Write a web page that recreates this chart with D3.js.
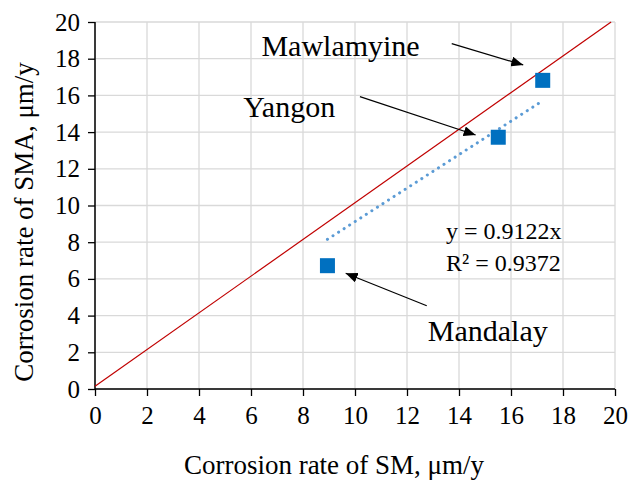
<!DOCTYPE html>
<html>
<head>
<meta charset="utf-8">
<script src="https://cdn.jsdelivr.net/npm/d3@7"></script>
<style>
  body { margin: 0; background: #fff; }
  svg { font-family: "Liberation Serif", "Times New Roman", serif; }
</style>
</head>
<body>
<svg id="chart" width="630" height="481"></svg>
<script>
// data
const sites = ["Mandalay", "Yangon", "Mawlamyine"];
const smRates = [8.94, 15.51, 17.22];     // Corrosion rate of SM
const smaRates = [6.72, 13.72, 16.82];    // Corrosion rate of SMA
const xTicks = [0, 2, 4, 6, 8, 10, 12, 14, 16, 18, 20];
const yTicks = [0, 2, 4, 6, 8, 10, 12, 14, 16, 18, 20];
const slope = 0.9122;
const rSquared = 0.9372;
const refLineX = [0, 19.85];
const refLineY = [0.15, 20];
// annotation arrows, [x1, y1, x2, y2] in data units, and label anchors
const arrowFrom = [[12.76, 4.54], [10.19, 15.93], [13.72, 18.82]];
const arrowTo = [[9.64, 6.31], [14.64, 13.84], [16.47, 17.66]];
const labelAt = [[12.8, 2.6], [5.7, 14.8], [6.4, 18.15]];

const margin = {left: 95, right: 15, top: 22, bottom: 92};
const TOTAL_WIDTH = 630, TOTAL_HEIGHT = 481;
const width = TOTAL_WIDTH - margin.left - margin.right;
const height = TOTAL_HEIGHT - margin.top - margin.bottom;

const xScale = d3.scaleLinear().domain([0, 20]).range([0, width]);
const yScale = d3.scaleLinear().domain([0, 20]).range([height, 0]);

const svg = d3.select("#chart");
const defs = svg.append("defs");
defs.append("marker")
    .attr("id", "head")
    .attr("viewBox", "0 0 12 10")
    .attr("refX", 12).attr("refY", 5)
    .attr("markerWidth", 12).attr("markerHeight", 10)
    .attr("markerUnits", "userSpaceOnUse")
    .attr("orient", "auto")
  .append("path")
    .attr("d", "M0,0 L12,5 L0,10 Z")
    .attr("fill", "#000");

const g = svg.append("g")
    .attr("transform", `translate(${margin.left}, ${margin.top})`);

// grid
g.append("g").selectAll("line").data(xTicks).enter().append("line")
    .attr("x1", d => xScale(d)).attr("x2", d => xScale(d))
    .attr("y1", 0).attr("y2", height)
    .attr("stroke", "#d9d9d9").attr("stroke-width", 1.3);
g.append("g").selectAll("line").data(yTicks).enter().append("line")
    .attr("y1", d => yScale(d)).attr("y2", d => yScale(d))
    .attr("x1", 0).attr("x2", width)
    .attr("stroke", "#d9d9d9").attr("stroke-width", 1.3);

// axes
const xAxis = d3.axisBottom(xScale).tickValues(xTicks).tickSize(7).tickPadding(10);
const yAxis = d3.axisLeft(yScale).tickValues(yTicks).tickSize(7).tickPadding(8);

const x_g = g.append("g").attr("transform", `translate(0, ${height})`).call(xAxis);
const y_g = g.append("g").call(yAxis);
[x_g, y_g].forEach(a => {
    a.attr("font-family", null);
    a.select(".domain").attr("stroke", "#000").attr("stroke-width", 1.5);
    a.selectAll(".tick line").attr("stroke", "#000").attr("stroke-width", 1.3);
    a.selectAll(".tick text")
        .attr("font-size", 25).attr("fill", "#000");
});
x_g.select(".domain").attr("d", `M0,0H${width}`);
y_g.select(".domain").attr("d", `M0,${height}V0`);

// y = x reference line
g.append("line")
    .attr("x1", xScale(refLineX[0])).attr("y1", yScale(refLineY[0]))
    .attr("x2", xScale(refLineX[1])).attr("y2", yScale(refLineY[1]))
    .attr("stroke", "#c00000").attr("stroke-width", 1.2);

// linear trend through origin
const xMin = d3.min(smRates), xMax = d3.max(smRates);
g.append("line")
    .attr("x1", xScale(xMin)).attr("y1", yScale(slope * xMin))
    .attr("x2", xScale(xMax)).attr("y2", yScale(slope * xMax))
    .attr("stroke", "#5b9bd5").attr("stroke-width", 3)
    .attr("stroke-linecap", "round")
    .attr("stroke-dasharray", "0.1 6.5");

// points
const mark = 15;
g.selectAll(".mark").data(sites).enter().append("rect")
    .attr("class", "mark")
    .attr("x", (d, i) => xScale(smRates[i]) - mark / 2)
    .attr("y", (d, i) => yScale(smaRates[i]) - mark / 2)
    .attr("width", mark).attr("height", mark)
    .attr("fill", "#0070c0");

// annotations
g.selectAll(".arrow").data(sites).enter().append("line")
    .attr("class", "arrow")
    .attr("x1", (d, i) => xScale(arrowFrom[i][0]))
    .attr("y1", (d, i) => yScale(arrowFrom[i][1]))
    .attr("x2", (d, i) => xScale(arrowTo[i][0]))
    .attr("y2", (d, i) => yScale(arrowTo[i][1]))
    .attr("stroke", "#000").attr("stroke-width", 1.2)
    .attr("marker-end", "url(#head)");

g.selectAll(".site").data(sites).enter().append("text")
    .attr("class", "site")
    .text(d => d)
    .attr("x", (d, i) => xScale(labelAt[i][0]))
    .attr("y", (d, i) => yScale(labelAt[i][1]))
    .attr("font-size", 30).attr("fill", "#000");

// equation
g.append("text")
    .text(`y = ${slope}x`)
    .attr("x", xScale(13.5)).attr("y", yScale(8.2))
    .attr("font-size", 24).attr("fill", "#000");
g.append("text")
    .text(`R² = ${rSquared}`)
    .attr("x", xScale(13.5)).attr("y", yScale(6.45))
    .attr("font-size", 24).attr("fill", "#000");

// axis titles
svg.append("text")
    .text("Corrosion rate of SM, μm/y")
    .attr("x", margin.left + width / 2 - 21).attr("y", 474)
    .attr("text-anchor", "middle")
    .attr("font-size", 27).attr("fill", "#000");
svg.append("text")
    .text("Corrosion rate of SMA, μm/y")
    .attr("transform", "rotate(-90)")
    .attr("x", -222).attr("y", 33)
    .attr("text-anchor", "middle")
    .attr("font-size", 27).attr("fill", "#000");
</script>
</body>
</html>
